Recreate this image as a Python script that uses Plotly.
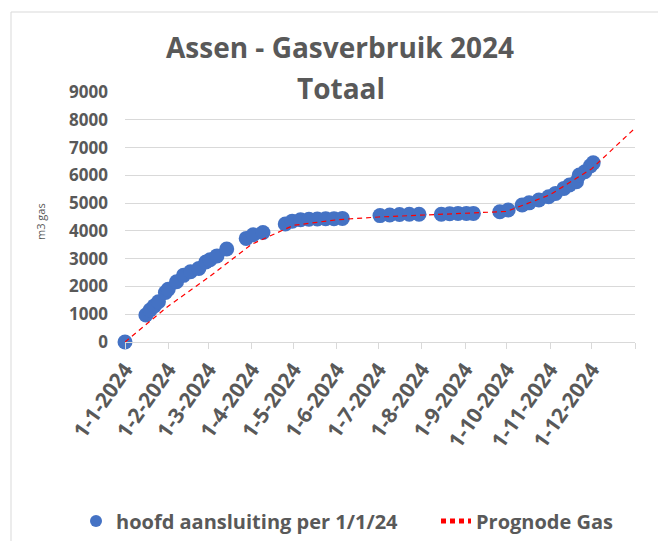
import plotly.graph_objects as go

# ---- data ----
meter_dates = [
    "2024-01-01", "2024-01-16", "2024-01-19", "2024-01-22", "2024-01-25", "2024-01-30",
    "2024-02-01", "2024-02-07", "2024-02-12", "2024-02-17", "2024-02-23", "2024-02-28",
    "2024-03-02", "2024-03-07", "2024-03-14", "2024-03-28", "2024-04-02", "2024-04-09",
    "2024-04-25", "2024-04-30", "2024-05-06", "2024-05-12", "2024-05-18", "2024-05-24",
    "2024-05-30", "2024-06-05", "2024-07-02", "2024-07-09", "2024-07-16", "2024-07-23",
    "2024-07-30", "2024-08-15", "2024-08-21", "2024-08-27", "2024-09-02", "2024-09-07",
    "2024-09-26", "2024-10-02", "2024-10-12", "2024-10-17", "2024-10-24", "2024-10-31",
    "2024-11-05", "2024-11-11", "2024-11-15", "2024-11-20", "2024-11-22", "2024-11-26",
    "2024-11-30", "2024-12-02",
]
meter_values = [
    0, 970, 1150, 1300, 1450, 1780,
    1900, 2170, 2400, 2530, 2650, 2880,
    2960, 3100, 3350, 3730, 3860, 3940,
    4250, 4350, 4400, 4420, 4430, 4440,
    4440, 4450, 4550, 4570, 4590, 4600,
    4600, 4600, 4620, 4630, 4630, 4630,
    4690, 4750, 4930, 5010, 5110, 5230,
    5350, 5530, 5650, 5770, 6010, 6130,
    6340, 6450,
]

prognose_dates = [
    "2024-01-01", "2024-02-01", "2024-03-01", "2024-04-01", "2024-05-01", "2024-06-01",
    "2024-07-01", "2024-08-01", "2024-09-01", "2024-10-01", "2024-11-01", "2024-12-01",
    "2025-01-01",
]
prognose_values = [0, 1290, 2330, 3520, 4200, 4400, 4500, 4570, 4630, 4700, 5300, 6240, 7700]

tick_dates = prognose_dates
tick_labels = [
    "1-1-2024", "1-2-2024", "1-3-2024", "1-4-2024", "1-5-2024", "1-6-2024",
    "1-7-2024", "1-8-2024", "1-9-2024", "1-10-2024", "1-11-2024", "1-12-2024", "",
]
y_ticks = [0, 1000, 2000, 3000, 4000, 5000, 6000, 7000, 8000, 9000]

title_line1 = "Assen - Gasverbruik 2024"
title_line2 = "Totaal"
y_title = "m3 gas"
name_meter = "hoofd aansluiting per 1/1/24"
name_prognose = "Prognode Gas"

# ---- style ----
TXT = "#595959"
GRID = "#D9D9D9"
FONT = "Open Sans"

# page body margin of 8px shifts the figure; work in window pixels
OFF = 8
WIN_W, WIN_H = 666, 541
W, H = WIN_W - OFF, WIN_H - OFF
PLOT_L, PLOT_R, PLOT_T, PLOT_B = 125, 635, 92, 342   # window pixels
L, R, T, B = PLOT_L - OFF, WIN_W - PLOT_R, PLOT_T - OFF, WIN_H - PLOT_B
PW, PH = PLOT_R - PLOT_L, PLOT_B - PLOT_T


def px_x(p):
    return (p - PLOT_L) / PW


def px_y(p):
    return (PLOT_B - p) / PH


def cont_x(p):
    return (p - OFF) / W


def cont_y(p):
    return 1 - (p - OFF) / H


LEG_FONT = dict(size=20, color=TXT, family=FONT, weight="bold")

fig = go.Figure()
fig.add_trace(go.Scatter(
    x=meter_dates, y=meter_values, mode="markers", name=name_meter,
    marker=dict(size=15, color="#4472C4", line=dict(width=0)),
    cliponaxis=False, legend="legend",
))
fig.add_trace(go.Scatter(
    x=prognose_dates, y=prognose_values, mode="lines", name=name_prognose,
    line=dict(color="#FF0000", width=1.2, dash="5px,4px"),
    cliponaxis=False, legend="legend2",
))

fig.update_layout(
    width=W, height=H,
    margin=dict(l=L, r=R, t=T, b=B, pad=0, autoexpand=False),
    paper_bgcolor="white", plot_bgcolor="white",
    font=dict(family=FONT, color=TXT),
    showlegend=True,
    legend=dict(
        orientation="h", xref="container", yref="container",
        x=cont_x(76), xanchor="left", y=cont_y(521), yanchor="middle",
        font=LEG_FONT, itemsizing="constant",
    ),
    legend2=dict(
        orientation="h", xref="container", yref="container",
        x=cont_x(436), xanchor="left", y=cont_y(521), yanchor="middle",
        font=LEG_FONT, itemsizing="constant",
    ),
    xaxis=dict(
        type="date", range=["2024-01-01", "2025-01-01"], automargin=False,
        tickmode="array", tickvals=tick_dates, ticktext=tick_labels,
        tickangle=-55, showgrid=False, showline=True, linecolor=GRID, linewidth=1,
        ticks="outside", ticklen=6, tickcolor=GRID, tickwidth=1,
        tickfont=dict(size=21, color=TXT, family=FONT, weight="bold"),
        zeroline=False,
    ),
    yaxis=dict(
        range=[0, 9000], tickmode="array", tickvals=y_ticks, automargin=False,
        ticktext=[str(v) for v in y_ticks],
        showgrid=True, gridcolor=GRID, gridwidth=1, zeroline=False, showline=False,
        ticks="", ticklabelstandoff=16,
        tickfont=dict(size=17, color=TXT, family=FONT, weight="bold"),
    ),
    shapes=[dict(
        type="rect", xref="paper", yref="paper",
        x0=px_x(11), x1=px_x(700), y0=px_y(600), y1=px_y(12),
        line=dict(color=GRID, width=1), fillcolor="rgba(0,0,0,0)", layer="below",
    )],
    annotations=[
        dict(text=title_line1, xref="paper", yref="paper", x=px_x(340), y=px_y(47),
             xanchor="center", yanchor="middle", showarrow=False,
             font=dict(size=28, color=TXT, family=FONT, weight="bold")),
        dict(text=title_line2, xref="paper", yref="paper", x=px_x(341), y=px_y(88),
             xanchor="center", yanchor="middle", showarrow=False,
             font=dict(size=28, color=TXT, family=FONT, weight="bold")),
        dict(text=y_title, xref="paper", yref="paper", x=px_x(40), y=px_y(222),
             xanchor="center", yanchor="middle", showarrow=False, textangle=-90,
             font=dict(size=11, color=TXT, family=FONT)),
    ],
)

fig.write_html("out.html")
